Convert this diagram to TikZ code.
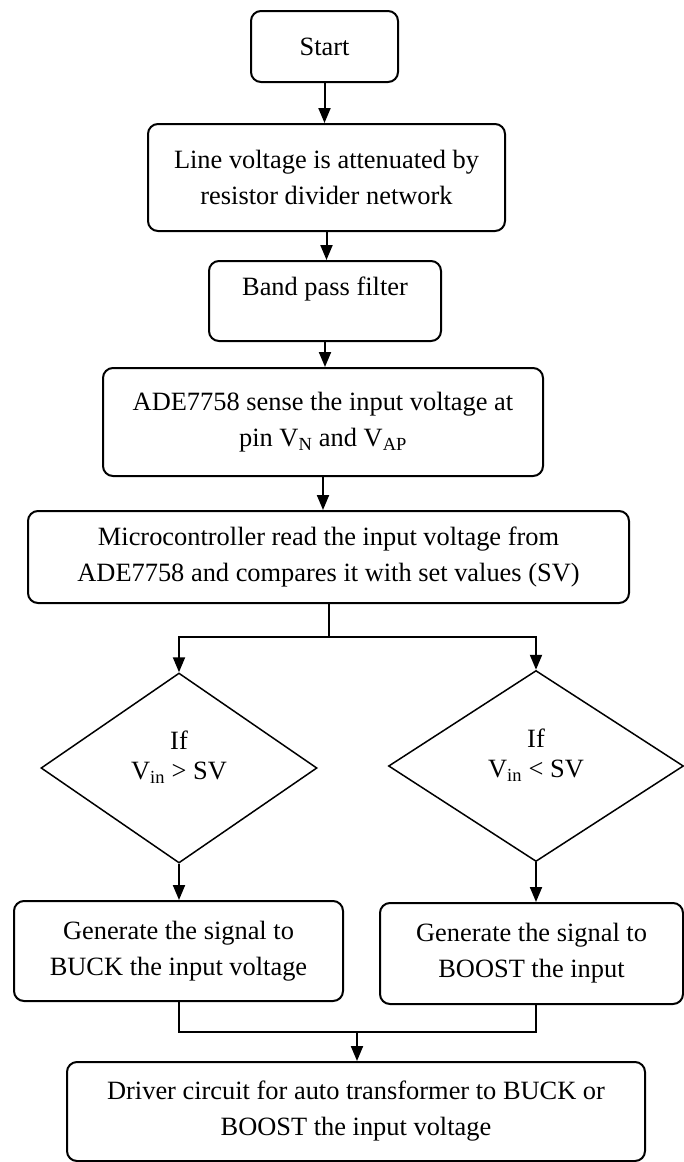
\documentclass[tikz,border=0pt]{standalone}
\usepackage{fontspec}
\setmainfont{Liberation Serif}
\usepackage{tikz}
\usetikzlibrary{arrows.meta,shapes.geometric}

\tikzset{
  stepbox/.style={draw,line width=2pt,rounded corners=10pt,align=center,inner sep=0pt},
  ifbox/.style={draw,diamond,line width=1.5pt,inner sep=0pt},
  iftext/.style={align=center,inner sep=0pt},
}

\begin{document}
\begin{tikzpicture}[x=1pt,y=-1pt]
\useasboundingbox (0,0) rectangle (683,1162);
\begin{scope}[>={Triangle[length=15pt,width=12pt]},line width=2pt,
    font=\fontsize{26.4}{36}\selectfont]
    \node[stepbox,minimum width=147pt,minimum height=71pt] (start) at (324.5,46.5) {Start};

    \node[stepbox,minimum width=357pt,minimum height=107pt] (line) at (326.5,177.5)
        {Line voltage is attenuated by\\resistor divider network};

    \node[stepbox,minimum width=232pt,minimum height=80pt,text depth=30pt] (band) at (325,301)
        {Band pass filter};

    \node[stepbox,minimum width=440pt,minimum height=108pt] (ade) at (323,422)
        {ADE7758 sense the input voltage at\\pin V\textsubscript{N} and V\textsubscript{AP}};

    \node[stepbox,minimum width=601pt,minimum height=92pt] (micro) at (328.5,557)
        {Microcontroller read the input voltage from\\ADE7758 and compares it with set values (SV)};

    \coordinate (fork) at (329,637);

    \node[ifbox,minimum width=276pt,minimum height=190pt] (ifa) at (179,768) {};
    \node[iftext] (ifatext) at (179,757) {If\\[-6pt]V\textsubscript{in} > SV};

    \node[ifbox,minimum width=295pt,minimum height=191pt] (ifb) at (536,766) {};
    \node[iftext] (ifbtext) at (536,755) {If\\[-6pt]V\textsubscript{in} < SV};

    \node[stepbox,minimum width=329pt,minimum height=100pt] (buck) at (178.5,951)
        {Generate the signal to\\BUCK the input voltage};

    \node[stepbox,minimum width=303pt,minimum height=101pt] (boost) at (531.5,953.5)
        {Generate the signal to\\BOOST the input};

    \coordinate (join) at (357,1032);

    \node[stepbox,minimum width=578pt,minimum height=99pt] (driver) at (356,1111.5)
        {Driver circuit for auto transformer to BUCK or\\BOOST the input voltage};

    \draw[->] (start.south) -- (start.south |- line.north);
    \draw[->] (line.south) -- (line.south |- band.north);
    \draw[->] (band.south) -- (band.south |- ade.north);
    \draw[->] (ade.south) -- (ade.south |- micro.north);

    \draw (micro.south -| fork) -- (fork);
    \draw[->] (fork) -| (ifa.north);
    \draw[->] (fork) -| (ifb.north);

    \draw[->] (ifa.south) -- (ifa.south |- buck.north);
    \draw[->] (ifb.south) -- (ifb.south |- boost.north);

    \draw (ifa.south |- buck.south) |- (join);
    \draw (ifb.south |- boost.south) |- (join);
    \draw[->] (join) -- (join |- driver.north);
\end{scope}
\end{tikzpicture}
\end{document}
